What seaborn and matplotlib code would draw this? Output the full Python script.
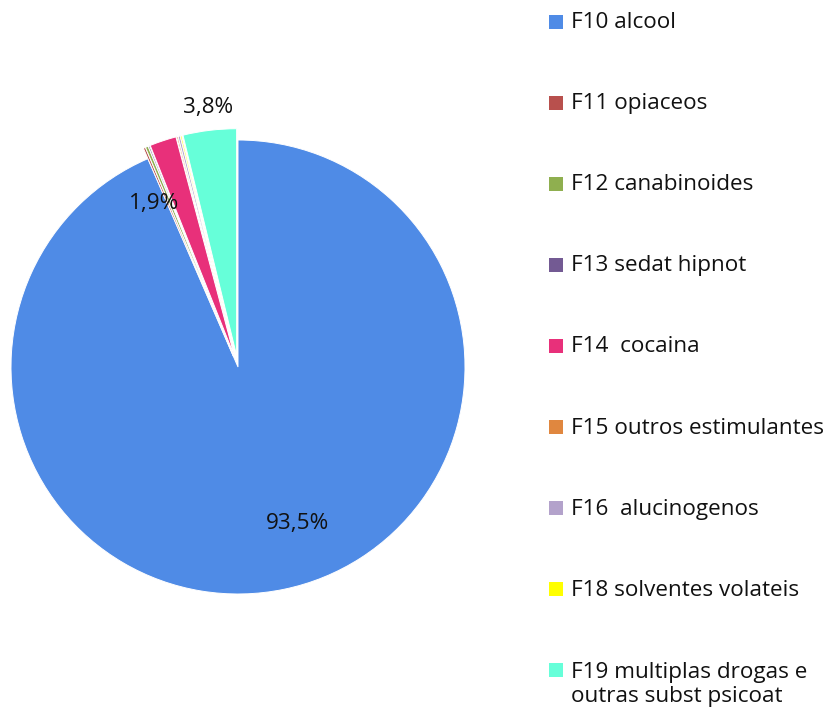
import matplotlib
matplotlib.use("Agg")
import matplotlib.pyplot as plt
from matplotlib.patches import Rectangle
import seaborn as sns

categories = [
    "F10 alcool",
    "F11 opiaceos",
    "F12 canabinoides",
    "F13 sedat hipnot",
    "F14  cocaina",
    "F15 outros estimulantes",
    "F16  alucinogenos",
    "F18 solventes volateis",
    "F19 multiplas drogas e\noutras subst psicoat",
]
shares = [93.5, 0.15, 0.2, 0.1, 1.9, 0.1, 0.15, 0.1, 3.8]
labeled = [True, False, False, False, True, False, False, False, True]
colors = ["#4F8BE6", "#B8504D", "#8FAF4F", "#735A93", "#E8307A",
          "#E0873F", "#B3A2CB", "#FFFF00", "#66FFD9"]

sns.set_theme(style="white")
plt.rcParams["font.family"] = ["Open Sans", "DejaVu Sans"]

W, H = 834, 710
fig = plt.figure(figsize=(W / 100, H / 100), dpi=100)

cx, cy, r = 238, 367, 227
ax = fig.add_axes([(cx - r) / W, (H - cy - r) / H, 2 * r / W, 2 * r / H])

explode = [0.0] + [0.05] * (len(shares) - 1)
wedges, _ = ax.pie(
    shares, colors=colors, startangle=90, counterclock=False,
    explode=explode, radius=1.0,
    wedgeprops=dict(edgecolor="white", linewidth=0.7),
)
ax.set_xlim(-1, 1)
ax.set_ylim(-1, 1)
ax.set_aspect("equal")
ax.axis("off")
for w in wedges:
    w.set_clip_on(False)

fs = 16.2

# value labels for the three main slices (data coordinates)
label_pos = {0: (0.26, -0.69), 4: (-0.37, 0.72), 8: (-0.13, 1.145)}
for i, (v, show) in enumerate(zip(shares, labeled)):
    if show:
        txt = f"{v:.1f}%".replace(".", ",")
        x, y = label_pos[i]
        ax.text(x, y, txt, ha="center", va="center", fontsize=fs,
                color="#111111", clip_on=False)

# legend column on the right
y0, step = 22, 81
for i, (name, c) in enumerate(zip(categories, colors)):
    yc = y0 + i * step
    fig.patches.append(Rectangle((549 / W, (H - yc - 7) / H), 14 / W, 14 / H,
                                 transform=fig.transFigure, facecolor=c,
                                 edgecolor="none"))
    if "\n" in name:
        fig.text(571 / W, (H - yc + 8) / H, name, ha="left", va="top",
                 fontsize=fs, color="#111111", linespacing=1.2,
                 transform=fig.transFigure)
    else:
        fig.text(571 / W, (H - yc - 1) / H, name, ha="left", va="center",
                 fontsize=fs, color="#111111", transform=fig.transFigure)

fig.savefig("out.png", dpi=100, facecolor="white")
